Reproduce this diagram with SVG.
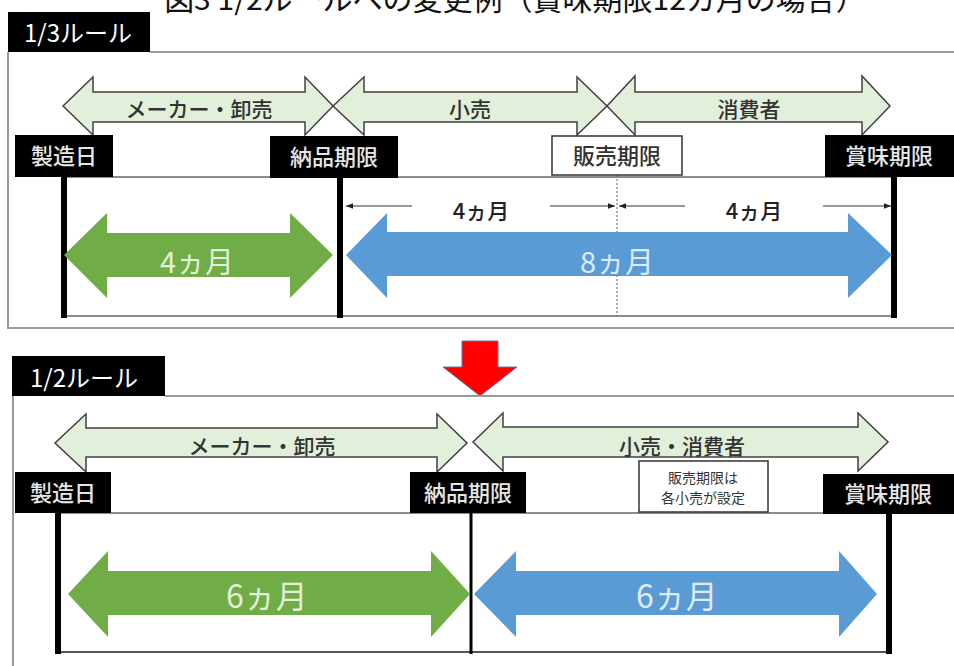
<svg xmlns="http://www.w3.org/2000/svg" width="954" height="666" viewBox="0 0 954 666">
<style>
  text { font-family: "Noto Sans CJK JP", "Noto Sans", sans-serif; }
  .panel { stroke: #9a9a9a; stroke-width: 2; fill: none; }
  .tab { fill: #000; }
  .tabtxt { fill: #fff; font-size: 24px; }
  .band { fill: #e2efda; stroke: #404040; stroke-width: 1.5; stroke-linejoin: miter; }
  .bandtxt { fill: #333; font-size: 21px; text-anchor: middle; font-weight: 500; }
  .blk { fill: #000; }
  .blktxt { fill: #e6e6e6; font-size: 22px; text-anchor: middle; font-weight: 500; }
  .wbox { fill: #fff; stroke: #333; stroke-width: 1.5; }
  .thick { stroke: #000; stroke-width: 6; }
  .thin { stroke: #8c8c8c; stroke-width: 2; }
  .green { fill: #70ad47; }
  .blue { fill: #5b9bd5; }
  .gtxt { fill: #e2f0d9; font-size: 29px; text-anchor: middle; }
  .btxt { fill: #deebf7; font-size: 29px; text-anchor: middle; }
  .dim { stroke: #333; stroke-width: 1; marker-start: url(#ah); marker-end: url(#ah); }
  .dimtxt { fill: #222; font-size: 22px; text-anchor: middle; font-weight: 500; }
</style>
<defs>
  <marker id="ah" viewBox="0 0 10 10" refX="10" refY="5" markerWidth="7" markerHeight="7" orient="auto-start-reverse" markerUnits="userSpaceOnUse">
    <path d="M0,1 L10,5 L0,9 Z" fill="#222"/>
  </marker>
</defs>
<rect width="954" height="666" fill="#fff"/>

<!-- title (clipped at top, as in the reference) -->
<text id="title" x="515" y="10" font-size="30" text-anchor="middle" fill="#111">図3 1/2ルールへの変更例（賞味期限12カ月の場合）</text>

<!-- Panel 1 -->
<g id="panel1">
  <path class="panel" d="M150,52 H954 M8,52 V328 H954"/>
  <rect class="tab" x="8" y="12" width="142" height="40"/>
  <text class="tabtxt" x="24" y="42">1/3ルール</text>
</g>

<g id="p1-band-maker">
  <path class="band" d="M63,106 L93,77 L93,92 L305,92 L305,77 L333,106 L305,135 L305,122 L93,122 L93,135 Z"/>
  <text class="bandtxt" x="199" y="117">メーカー・卸売</text>
</g>
<g id="p1-band-retail">
  <path class="band" d="M333,106 L364,77 L364,92 L577,92 L577,77 L607,106 L577,135 L577,122 L364,122 L364,135 Z"/>
  <text class="bandtxt" x="470" y="117">小売</text>
</g>
<g id="p1-band-consumer">
  <path class="band" d="M607,106 L635,76 L635,92 L862,92 L862,76 L890,106 L862,135 L862,122 L635,122 L635,135 Z"/>
  <text class="bandtxt" x="749" y="117">消費者</text>
</g>

<g id="p1-frame">
  <line class="thin" x1="63" y1="177" x2="894" y2="177"/>
  <line class="thin" x1="63" y1="316" x2="894" y2="316"/>
  <line x1="617" y1="175" x2="617" y2="316" stroke="#777" stroke-width="1.2" stroke-dasharray="2,2"/>
  <line class="thick" x1="64" y1="177" x2="64" y2="318"/>
  <line class="thick" x1="340" y1="177" x2="340" y2="318"/>
  <line class="thick" x1="894" y1="177" x2="894" y2="318"/>
</g>

<g id="p1-manufacture">
  <rect class="blk" x="15" y="135" width="98" height="42"/>
  <text class="blktxt" x="64" y="164">製造日</text>
</g>
<g id="p1-delivery">
  <rect class="blk" x="270" y="136" width="128" height="42"/>
  <text class="blktxt" x="334" y="165">納品期限</text>
</g>
<g id="p1-sales">
  <rect class="wbox" x="552" y="136" width="130" height="39"/>
  <text class="blktxt" x="617" y="164" style="fill:#333">販売期限</text>
</g>
<g id="p1-bestbefore">
  <rect class="blk" x="825" y="135" width="135" height="42"/>
  <text class="blktxt" x="889" y="164">賞味期限</text>
</g>

<g id="p1-dims">
  <line class="dim" x1="346" y1="206" x2="615" y2="206"/>
  <line class="dim" x1="619" y1="206" x2="891" y2="206"/>
  <rect x="412" y="193" width="138" height="26" fill="#fff"/>
  <rect x="685" y="193" width="138" height="26" fill="#fff"/>
  <text class="dimtxt" x="481" y="219">4ヵ月</text>
  <text class="dimtxt" x="754" y="219">4ヵ月</text>
</g>

<g id="p1-green">
  <path class="green" d="M64,255 L107,213 L107,233 L290,233 L290,213 L333,255 L290,298 L290,277 L107,277 L107,298 Z"/>
  <text class="gtxt" x="197" y="273">4ヵ月</text>
</g>
<g id="p1-blue">
  <path class="blue" d="M346,255 L387,213 L387,232 L848,232 L848,213 L892,255 L848,298 L848,276 L387,276 L387,298 Z"/>
  <text class="btxt" x="617" y="273">8ヵ月</text>
</g>

<!-- red arrow -->
<g id="red-arrow">
  <path d="M462,341 L498,341 L498,367 L517,367 L480,396 L443,367 L462,367 Z" fill="#ff0000" stroke="#5a77a8" stroke-width="1"/>
</g>

<!-- Panel 2 -->
<g id="panel2">
  <path class="panel" d="M165,396 H954 M13,396 V666"/>
  <rect class="tab" x="12" y="356" width="153" height="40"/>
  <text class="tabtxt" x="30" y="387">1/2ルール</text>
</g>

<g id="p2-band-maker">
  <path class="band" d="M55,443 L86,414 L86,428 L437,428 L437,414 L467,443 L437,472 L437,457 L86,457 L86,472 Z"/>
  <text class="bandtxt" x="262" y="454">メーカー・卸売</text>
</g>
<g id="p2-band-retail">
  <path class="band" d="M473,442 L503,413 L503,427 L858,427 L858,413 L888,442 L858,471 L858,457 L503,457 L503,471 Z"/>
  <text class="bandtxt" x="682" y="454">小売・消費者</text>
</g>

<g id="p2-frame">
  <line class="thin" x1="58" y1="513" x2="890" y2="513"/>
  <line x1="58" y1="652" x2="890" y2="652" stroke="#555" stroke-width="2"/>
  <line class="thick" x1="58" y1="513" x2="58" y2="654" stroke-width="5"/>
  <line x1="471" y1="513" x2="471" y2="654" stroke="#000" stroke-width="3"/>
  <line class="thick" x1="889" y1="513" x2="889" y2="654" stroke-width="5"/>
</g>

<g id="p2-manufacture">
  <rect class="blk" x="15" y="472" width="96" height="41"/>
  <text class="blktxt" x="63" y="501">製造日</text>
</g>
<g id="p2-delivery">
  <rect class="blk" x="410" y="472" width="116" height="41"/>
  <text class="blktxt" x="468" y="501">納品期限</text>
</g>
<g id="p2-sales">
  <rect class="wbox" x="639" y="461" width="129" height="51"/>
  <text x="703" y="483" font-size="14" text-anchor="middle" fill="#333">販売期限は</text>
  <text x="703" y="503" font-size="14" text-anchor="middle" fill="#333">各小売が設定</text>
</g>
<g id="p2-bestbefore">
  <rect class="blk" x="823" y="474" width="135" height="40"/>
  <text class="blktxt" x="888" y="502">賞味期限</text>
</g>

<g id="p2-green">
  <path class="green" d="M68,594 L108,551 L108,571 L431,571 L431,551 L470,594 L431,637 L431,615 L108,615 L108,637 Z"/>
  <text class="gtxt" x="267" y="608" style="font-size:32px">6ヵ月</text>
</g>
<g id="p2-blue">
  <path class="blue" d="M474,594 L516,551 L516,571 L839,571 L839,551 L877,594 L839,637 L839,615 L516,615 L516,637 Z"/>
  <text class="btxt" x="677" y="608" style="font-size:32px">6ヵ月</text>
</g>
</svg>
